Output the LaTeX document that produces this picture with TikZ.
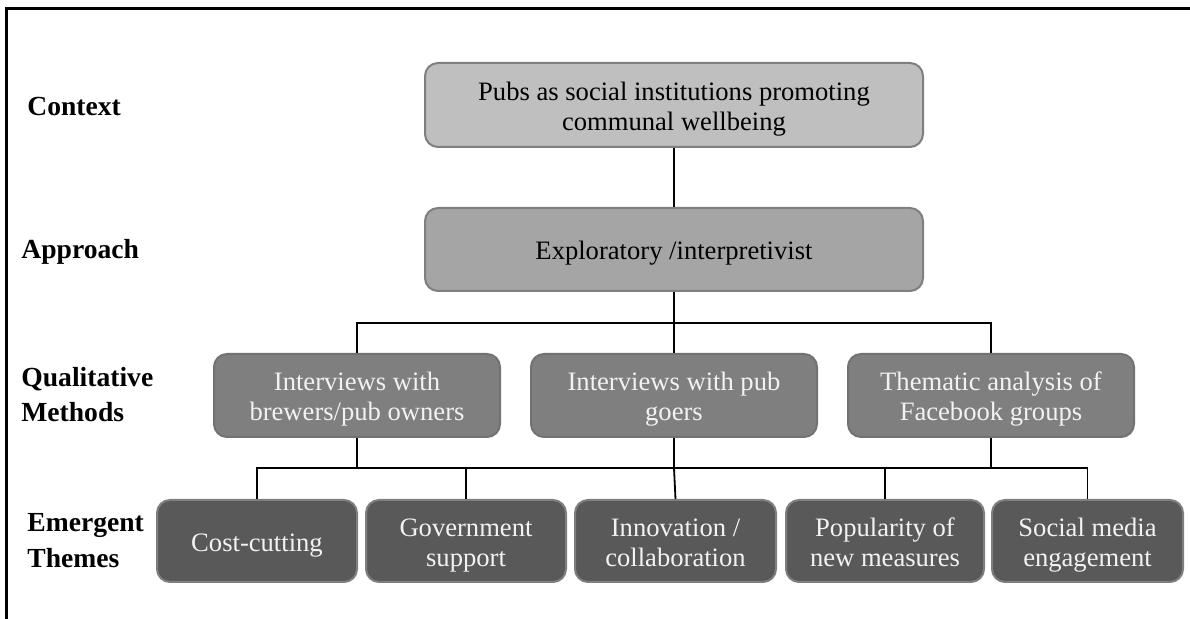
\documentclass[tikz,border=0pt]{standalone}
\usepackage{fontspec}
\setmainfont{Liberation Serif}
\definecolor{ctxfill}{HTML}{BFBFBF}
\definecolor{appfill}{HTML}{A5A5A5}
\definecolor{metfill}{HTML}{7F7F7F}
\definecolor{thmfill}{HTML}{595959}
\definecolor{boxline}{HTML}{7F7F7F}
\definecolor{lighttext}{HTML}{F2F2F2}
\newcommand{\boxtxt}[1]{\begin{tabular}{@{}c@{}}\rule{0pt}{15pt}#1\end{tabular}}
\begin{document}
\begin{tikzpicture}[x=0.5pt,y=-0.5pt,
  boxbase/.style={rectangle, rounded corners=6.5pt, draw=boxline, line width=1pt,
    inner sep=2pt, font=\fontsize{13.3pt}{15pt}\selectfont},
  ctxbox/.style={boxbase, fill=ctxfill, text=black, minimum width=249pt, minimum height=42pt},
  appbox/.style={boxbase, fill=appfill, text=black, minimum width=249pt, minimum height=41.5pt},
  metbox/.style={boxbase, fill=metfill, draw=metfill!90!black, text=lighttext, minimum width=143pt, minimum height=41.5pt},
  thmbox/.style={boxbase, fill=thmfill, text=lighttext, minimum height=41pt},
  lbl/.style={anchor=base west, inner sep=0pt, font=\fontsize{13.8pt}{17.5pt}\selectfont\bfseries},
  conn/.style={draw=black, line width=0.9pt}
]
\useasboundingbox (0,0) rectangle (1190,619);
% frame
\draw[line width=1.5pt, line cap=rect] (6,619) -- (6,9) -- (1190,9);

% row labels
\node[lbl] (lctx) at (27,116) {Context};
\node[lbl] (lapp) at (21,259) {Approach};
\node[lbl] (lmet1) at (21,387) {Qualitative};
\node[lbl] (lmet2) at (21,422) {Methods};
\node[lbl] (lthm1) at (27,532) {Emergent};
\node[lbl] (lthm2) at (27,568) {Themes};

% boxes
\node[ctxbox] (ctx) at (674,105) {\boxtxt{Pubs as social institutions promoting\\communal wellbeing}};
\node[appbox] (app) at (674,249.5) {\boxtxt{Exploratory /interpretivist}};

\node[metbox] (m1) at (357,395.5) {\boxtxt{Interviews with\\brewers/pub owners}};
\node[metbox] (m2) at (674,395.5) {\boxtxt{Interviews with pub\\goers}};
\node[metbox] (m3) at (991,395.5) {\boxtxt{Thematic analysis of\\Facebook groups}};

\node[thmbox, minimum width=100pt] (t1) at (257,541) {\boxtxt{Cost-cutting}};
\node[thmbox, minimum width=100pt] (t2) at (466,541) {\boxtxt{Government\\support}};
\node[thmbox, minimum width=100.5pt] (t3) at (675.5,541) {\boxtxt{Innovation /\\collaboration}};
\node[thmbox, minimum width=99pt] (t4) at (885,541) {\boxtxt{Popularity of\\new measures}};
\node[thmbox, minimum width=95.5pt] (t5) at (1087.5,541) {\boxtxt{Social media\\engagement}};

% coordinates for junctions
\coordinate (j1) at (674,323);
\coordinate (j2) at (674,468);

% connectors
\draw[conn] (ctx) -- (app);
\draw[conn] (app.south) -- (j1);
\draw[conn] (j1) -| (m1.north);
\draw[conn] (j1) -| (m3.north);
\draw[conn] (j1) -- (m2.north);

\draw[conn] (m1.south) |- (j2);
\draw[conn] (m2.south) -- (j2);
\draw[conn] (m3.south) |- (j2);
\draw[conn] (j2) -| (t1.north);
\draw[conn] (j2) -| (t2.north);
\draw[conn] (j2) -- (t3.north);
\draw[conn] (j2) -| (t4.north);
\draw[conn] (j2) -| (t5.north);
\end{tikzpicture}
\end{document}
